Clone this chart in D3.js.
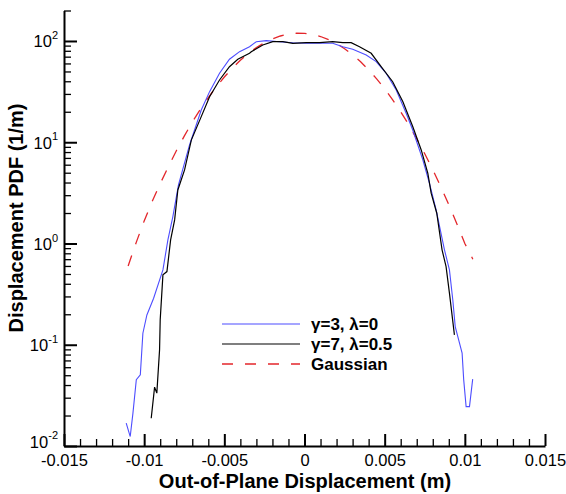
<!DOCTYPE html>
<html><head><meta charset="utf-8">
<script src="https://cdn.jsdelivr.net/npm/d3@7"></script>
<style>body{margin:0;background:#fff}svg{display:block}text{font-family:"Liberation Sans",Arial,sans-serif}</style>
</head><body><svg id="c" width="566" height="494"></svg>
<script>
// x in metres, y in 1/m
const blueX = [-0.01112,-0.01087,-0.01070,-0.01049,-0.01024,-0.01008,-0.00983,-0.00941,-0.00883,-0.00852,-0.00821,-0.00786,-0.00717,-0.00644,-0.00592,-0.00530,-0.00468,-0.00405,-0.00343,-0.00301,-0.00239,-0.00156,-0.00073,0.00011,0.00094,0.00176,0.00239,0.00301,0.00385,0.00447,0.00509,0.00572,0.00634,0.00675,0.00738,0.00779,0.00821,0.00873,0.00904,0.00925,0.00940,0.00983,0.00993,0.01008,0.01029,0.01049];
const blueY = [0.0168,0.0124,0.0211,0.0451,0.0505,0.130,0.197,0.288,0.548,1.086,1.845,3.79,9.40,20.8,31.6,48.0,66.0,78.4,87.8,98.4,100.7,98.4,96.2,94.9,94.9,94.9,87.8,82.8,72.8,62.5,48.0,32.8,19.3,13.2,6.69,3.94,2.15,0.865,0.549,0.277,0.151,0.0826,0.045,0.0245,0.0245,0.0457];
const blackX = [-0.00956,-0.00935,-0.00921,-0.00904,-0.00900,-0.00883,-0.00858,-0.00835,-0.00810,-0.00790,-0.00748,-0.00706,-0.00644,-0.00592,-0.00530,-0.00468,-0.00416,-0.00343,-0.00332,-0.00260,-0.00198,-0.00135,-0.00073,0.00011,0.00094,0.00176,0.00239,0.00291,0.00343,0.00416,0.00478,0.00550,0.00613,0.00675,0.00728,0.00769,0.00790,0.00825,0.00858,0.00883,0.00904,0.00935];
const blackY = [0.0188,0.0381,0.0333,0.089,0.176,0.49,0.528,1.086,1.71,3.38,5.33,10.5,17.9,28.2,41.2,55.7,66.0,75.6,78.4,91.3,98.4,98.4,94.9,96.2,96.2,98.4,96.2,96.2,87.8,75.6,55.8,39.6,25.2,14.3,8.39,4.94,3.14,1.99,0.865,0.591,0.323,0.125];
const gaussX = [-0.0110,-0.0105,-0.0100,-0.0095,-0.0090,-0.0085,-0.0080,-0.0075,-0.0070,-0.0065,-0.0060,-0.0055,-0.0050,-0.0045,-0.0040,-0.0035,-0.0030,-0.0025,-0.0020,-0.0015,-0.0010,-0.0005,0.0000,0.0005,0.0010,0.0015,0.0020,0.0025,0.0030,0.0035,0.0040,0.0045,0.0050,0.0055,0.0060,0.0065,0.0070,0.0075,0.0080,0.0085,0.0090,0.0095,0.0100,0.0105];
const gaussY = [0.60,1.02,1.67,2.60,3.90,5.70,8.2,11.5,15.8,21.1,27.6,35.3,44.1,53.9,64.5,75.3,86.0,96.1,104.9,112.0,116.9,119.3,119.0,116.1,110.7,103.3,94.1,83.9,73.1,62.3,51.9,42.3,33.7,26.2,20.0,14.9,10.8,7.69,5.35,3.64,2.42,1.57,1.00,0.70];
const xTicks = [-0.015,-0.01,-0.005,0,0.005,0.01,0.015];
const xTickLabels = ["-0.015","-0.01","-0.005","0","0.005","0.01","0.015"];
const yTicks = [0.01,0.1,1,10,100];
const yTickExp = ["-2","-1","0","1","2"];
const legendLabels = ["\u03b3=3, \u03bb=0","\u03b3=7, \u03bb=0.5","Gaussian"];

const svg = d3.select("#c");
const x = d3.scaleLinear().domain([-0.015,0.015]).range([64,545]);
const y = d3.scaleLog().domain([0.01,200]).range([446,10.5]);

const font = '"Liberation Sans",Arial,sans-serif';
// minor ticks
const xMinor = d3.range(-15,16).map(d=>d/1000).filter(d=>Math.abs(Math.round(d*200)-d*200)>1e-6);
svg.append("g").attr("transform","translate(0,446)")
  .call(d3.axisBottom(x).tickValues(xMinor).tickSize(-7).tickFormat(""))
  .call(g=>{g.select(".domain").remove(); g.selectAll("line").attr("stroke-width",1.3);});
const yMinor = [];
[0.01,0.1,1,10,100].forEach(b=>{for(let k=2;k<=9;k++){const v=b*k; if(v<=200) yMinor.push(v);}});
svg.append("g").attr("transform","translate(64,0)")
  .call(d3.axisLeft(y).tickValues(yMinor).tickSize(-7).tickFormat(""))
  .call(g=>{g.select(".domain").remove(); g.selectAll("line").attr("stroke-width",1.3);});

// major x axis
const gx = svg.append("g").attr("transform","translate(0,446)")
  .call(d3.axisBottom(x).tickValues(xTicks).tickSize(-12).tickSizeOuter(0).tickPadding(5)
    .tickFormat((d,i)=>xTickLabels[i]));
gx.select(".domain").attr("stroke-width",2);
gx.selectAll("line").attr("stroke-width",2);
gx.selectAll("text").attr("font-size",16.5).attr("font-family",font).attr("fill","#000").attr("dy","0.88em");

// major y axis
const gy = svg.append("g").attr("transform","translate(64,0)")
  .call(d3.axisLeft(y).tickValues(yTicks).tickSize(-13).tickSizeOuter(0).tickPadding(6).tickFormat(""));
gy.select(".domain").attr("stroke-width",2);
gy.selectAll("line").attr("stroke-width",2);
gy.selectAll(".tick").each(function(d,i){
  const t = d3.select(this).select("text")
    .attr("font-size",16.5).attr("font-family",font).attr("fill","#000").attr("x",-6)
    .attr("dy", i===0 ? "0.06em" : "0.35em");
  t.append("tspan").text("10");
  t.append("tspan").attr("font-size",11).attr("dy","-0.75em").text(yTickExp[i]);
});

// titles
svg.append("text").attr("x",305).attr("y",488).attr("text-anchor","middle")
  .attr("font-size",20).attr("font-weight","bold").attr("font-family",font).text("Out-of-Plane Displacement (m)");
svg.append("text").attr("transform","translate(23,218) rotate(-90)").attr("text-anchor","middle")
  .attr("font-size",20).attr("font-weight","bold").attr("font-family",font).text("Displacement PDF (1/m)");

// curves
const line = d3.line().x(d=>x(d[0])).y(d=>y(d[1]));
const series = [
  {xs:gaussX, ys:gaussY, color:"#e3262b", w:1.3, dash:"11,12"},
  {xs:blueX, ys:blueY, color:"#4d4dff", w:1.1, dash:null},
  {xs:blackX, ys:blackY, color:"#000", w:1.2, dash:null}
];
series.forEach(s=>{
  svg.append("path").attr("d",line(s.xs.map((v,i)=>[v,s.ys[i]])))
    .attr("fill","none").attr("stroke",s.color).attr("stroke-width",s.w)
    .attr("stroke-dasharray",s.dash);
});

// legend
const leg = [
  {color:"#4d4dff", w:1.1, dash:null},
  {color:"#000", w:1.2, dash:null},
  {color:"#e3262b", w:1.3, dash:"11,12"}
];
leg.forEach((l,i)=>{
  const yy = 324 + i*20;
  svg.append("line").attr("x1",222).attr("x2",300).attr("y1",yy).attr("y2",yy)
    .attr("stroke",l.color).attr("stroke-width",l.w).attr("stroke-dasharray",l.dash);
  svg.append("text").attr("x",311).attr("y",yy).attr("dy","0.35em")
    .attr("font-size",17).attr("font-weight","bold").attr("font-family",font).text(legendLabels[i]);
});
</script></body></html>
